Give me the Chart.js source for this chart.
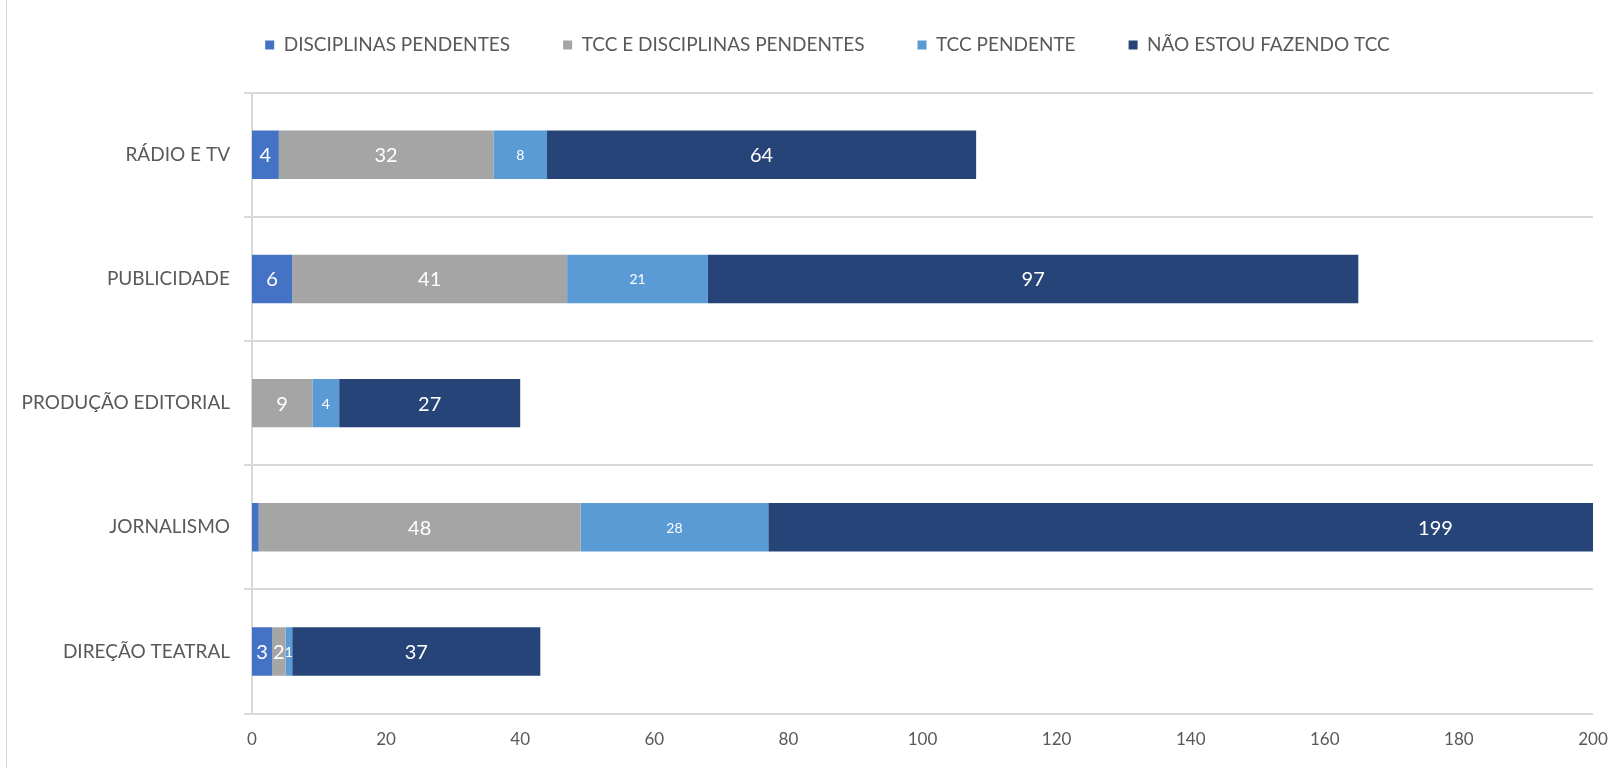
<!DOCTYPE html>
<html>
<head>
<meta charset="utf-8">
<script src="https://cdn.jsdelivr.net/npm/chart.js@4"></script>
<style>
  html, body { margin: 0; padding: 0; background: #fff; }
  #wrap { position: relative; width: 1623px; height: 768px; }
  #wrap::before { content: ''; position: absolute; left: 6px; top: 0; bottom: 0; width: 1px; background: #d9d9d9; }
</style>
</head>
<body>
<div id="wrap"><canvas id="grafico" width="1623" height="768"></canvas></div>
<script>
  // Cursos (de cima para baixo)
  const categorias = ['RÁDIO E TV', 'PUBLICIDADE', 'PRODUÇÃO EDITORIAL', 'JORNALISMO', 'DIREÇÃO TEATRAL'];

  // Séries
  const series = ['DISCIPLINAS PENDENTES', 'TCC E DISCIPLINAS PENDENTES', 'TCC PENDENTE', 'NÃO ESTOU FAZENDO TCC'];
  const disciplinasPendentes   = [4, 6, 0, 1, 3];
  const tccEDisciplinas        = [32, 41, 9, 48, 2];
  const tccPendente            = [8, 21, 4, 28, 1];
  const naoEstouFazendoTcc     = [64, 97, 27, 199, 37];

  // Eixo X
  const xMin = 0, xMax = 200, xPasso = 20;

  const CORES = ['#4472c4', '#a5a5a5', '#5b9bd5', '#264478'];
  const TAM_ROTULO = [20, 20, 14, 20];
  const FONTE = "'Lato', sans-serif";

  /* rótulos centralizados em cada segmento */
  const rotulosSegmento = {
    id: 'rotulosSegmento',
    afterDatasetsDraw(chart) {
      const ctx = chart.ctx;
      ctx.save();
      ctx.fillStyle = '#ffffff';
      ctx.textAlign = 'center';
      ctx.textBaseline = 'middle';
      chart.data.datasets.forEach((ds, di) => {
        const meta = chart.getDatasetMeta(di);
        meta.data.forEach((bar, i) => {
          const v = ds.data[i];
          if (!v) return;
          ctx.font = `${TAM_ROTULO[di]}px ${FONTE}`;
          const txt = String(v);
          const w = ctx.measureText(txt).width;
          const segW = Math.abs(bar.x - bar.base);
          if (w > segW + 2) return;   // não cabe
          ctx.fillText(txt, (bar.x + bar.base) / 2, bar.y + 1);
        });
      });
      ctx.restore();
    }
  };

  /* a legenda do original fica um pouco à direita do centro */
  const deslocaLegenda = {
    id: 'deslocaLegenda',
    afterLayout(chart) {
      if (!chart.legend) return;
      chart.legend.left += 21;
      chart.legend.right += 21;
    }
  };

  const valores = [disciplinasPendentes, tccEDisciplinas, tccPendente, naoEstouFazendoTcc];

  new Chart(document.getElementById('grafico'), {
    type: 'bar',
    data: {
      labels: categorias,
      datasets: series.map((nome, i) => ({
        label: nome,
        data: valores[i],
        backgroundColor: CORES[i],
        borderWidth: 0,
        barPercentage: 0.39,
        categoryPercentage: 1.0
      }))
    },
    options: {
      indexAxis: 'y',
      responsive: false,
      animation: false,
      layout: { padding: { top: -17.5, right: 30, left: 20, bottom: 10 } },
      plugins: {
        legend: {
          position: 'top',
          labels: {
            boxWidth: 9,
            boxHeight: 9,
            padding: 53,
            color: '#595959',
            font: { family: FONTE, size: 19 }
          }
        },
        // espaçador entre a legenda e a área do gráfico
        subtitle: {
          display: true,
          text: ' ',
          weight: 500,
          font: { size: 1 },
          padding: { top: 0, bottom: 27 }
        },
        tooltip: { enabled: false }
      },
      scales: {
        x: {
          stacked: true,
          min: xMin,
          max: xMax,
          ticks: { stepSize: xPasso, color: '#595959', font: { family: FONTE, size: 17 }, padding: 8 },
          grid: { display: false },
          border: { display: false }
        },
        y: {
          stacked: true,
          afterFit: s => { s.width = 232; },
          ticks: { color: '#595959', font: { family: FONTE, size: 19 }, padding: 14 },
          grid: { offset: true, color: '#d9d9d9', lineWidth: 2, tickLength: 8 },
          border: { display: true, color: '#d9d9d9', width: 2 }
        }
      }
    },
    plugins: [rotulosSegmento, deslocaLegenda]
  });
</script>
</body>
</html>
